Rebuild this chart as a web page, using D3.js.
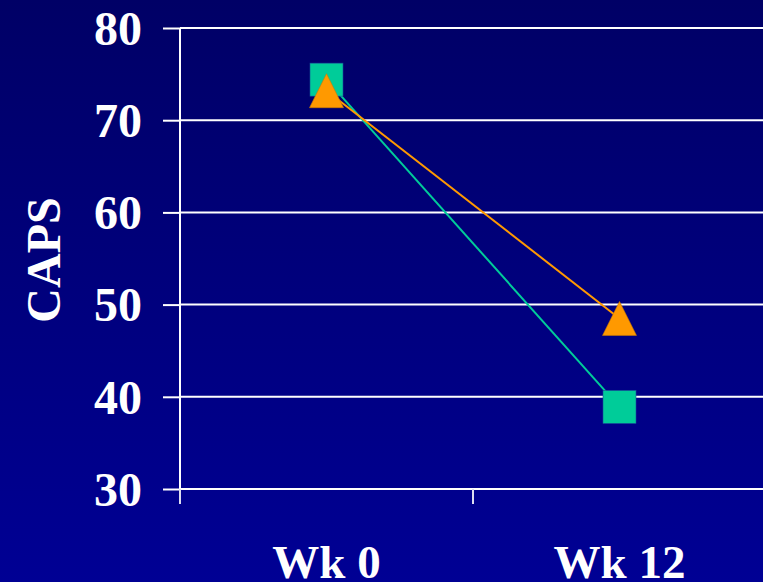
<!DOCTYPE html>
<html>
<head>
<meta charset="utf-8">
<script src="https://cdn.jsdelivr.net/npm/d3@7"></script>
<style>
  html, body { margin: 0; padding: 0; overflow: hidden; }
  svg { display: block; }
</style>
</head>
<body>
<svg id="chart" width="763" height="582"></svg>
<script>
// Data
const categories = ["Wk 0", "Wk 12"];
const squareSeries = [74.4, 38.9];
const triangleSeries = [73.2, 48.5];
const yTicks = [30, 40, 50, 60, 70, 80];

const W = 763, H = 582;
const margin = { left: 180, top: 28, bottom: 93 };
const plotW = 586;
const plotBottom = H - margin.bottom;

const svg = d3.select("#chart");

// Background gradient
const defs = svg.append("defs");
const grad = defs.append("linearGradient")
  .attr("id", "bg").attr("x1", 0).attr("y1", 0).attr("x2", 0).attr("y2", 1);
grad.append("stop").attr("offset", "0%").attr("stop-color", "#000066");
grad.append("stop").attr("offset", "100%").attr("stop-color", "#000094");
svg.append("rect").attr("width", W).attr("height", H).attr("fill", "url(#bg)");

const x = d3.scaleBand().domain(categories)
  .range([margin.left, margin.left + plotW]).padding(0);
const y = d3.scaleLinear().domain([30, 80]).range([plotBottom, margin.top]);

const font = "'Liberation Serif', 'Times New Roman', serif";

// Horizontal gridlines
svg.append("g").selectAll("line").data(yTicks.filter(d => d > 30)).join("line")
  .attr("x1", margin.left).attr("x2", W)
  .attr("y1", d => y(d)).attr("y2", d => y(d))
  .attr("stroke", "#ffffff").attr("stroke-width", 2);

// Y axis
const yAxis = svg.append("g")
  .attr("transform", `translate(${margin.left},0)`)
  .call(d3.axisLeft(y).tickValues(yTicks).tickSize(17).tickPadding(21));
yAxis.select(".domain").attr("stroke", "#ffffff").attr("stroke-width", 2)
  .attr("d", `M0,${margin.top}V${plotBottom + 15}`);
yAxis.selectAll(".tick line").attr("stroke", "#ffffff").attr("stroke-width", 2);
yAxis.selectAll(".tick text")
  .attr("fill", "#ffffff").attr("font-family", font)
  .attr("font-weight", "bold").attr("font-size", 48)
  .attr("dy", "0.34em");

// X axis
const xAxis = svg.append("g")
  .attr("transform", `translate(0,${plotBottom})`);
xAxis.append("line")
  .attr("x1", margin.left).attr("x2", W)
  .attr("stroke", "#ffffff").attr("stroke-width", 2);
const boundaries = [margin.left, x(categories[1])];
xAxis.selectAll("line.tk").data(boundaries).join("line").attr("class", "tk")
  .attr("x1", d => d).attr("x2", d => d).attr("y1", 0).attr("y2", 15)
  .attr("stroke", "#dcdcf0").attr("stroke-width", 2);
xAxis.selectAll("text").data(categories).join("text")
  .attr("x", d => x(d) + x.bandwidth() / 2)
  .attr("y", 89)
  .attr("text-anchor", "middle")
  .attr("fill", "#ffffff").attr("font-family", font)
  .attr("font-weight", "bold").attr("font-size", 47)
  .text(d => d);

// Y axis title
svg.append("text")
  .attr("transform", "translate(60,260) rotate(-90)")
  .attr("text-anchor", "middle")
  .attr("fill", "#ffffff").attr("font-family", font)
  .attr("font-weight", "bold").attr("font-size", 48)
  .text("CAPS");

const cx = d => x(d) + x.bandwidth() / 2;
const line = d3.line().x(d => cx(d.c)).y(d => y(d.v));
const sqData = categories.map((c, i) => ({ c, v: squareSeries[i] }));
const trData = categories.map((c, i) => ({ c, v: triangleSeries[i] }));

// Series lines
svg.append("path").datum(sqData).attr("d", line)
  .attr("fill", "none").attr("stroke", "#00cc99").attr("stroke-width", 2);
svg.append("path").datum(trData).attr("d", line)
  .attr("fill", "none").attr("stroke", "#ff9900").attr("stroke-width", 2);

// Square markers
const s = 33;
svg.append("g").selectAll("rect").data(sqData).join("rect")
  .attr("x", d => cx(d.c) - s / 2).attr("y", d => y(d.v) - s / 2)
  .attr("width", s).attr("height", s)
  .attr("fill", "#00cc99").attr("stroke", "#1a4d99").attr("stroke-width", 0.6);

// Triangle markers
const t = 34;
svg.append("g").selectAll("path").data(trData).join("path")
  .attr("d", d => {
    const px = cx(d.c), py = y(d.v);
    return `M${px},${py - t / 2}L${px + t / 2},${py + t / 2}L${px - t / 2},${py + t / 2}Z`;
  })
  .attr("fill", "#ff9900").attr("stroke", "#cc7a00").attr("stroke-width", 0.6);
</script>
</body>
</html>
